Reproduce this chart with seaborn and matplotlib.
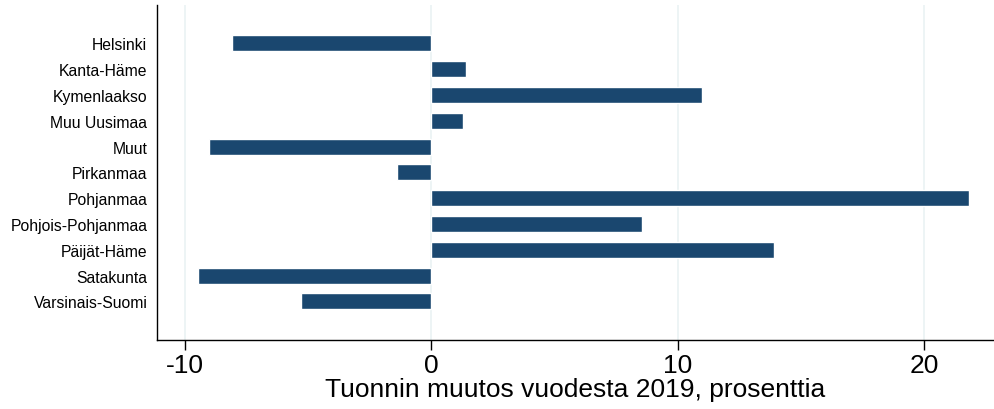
import pandas as pd
import matplotlib
matplotlib.use("Agg")
import matplotlib.pyplot as plt
import seaborn as sns

regions = ["Helsinki", "Kanta-Häme", "Kymenlaakso", "Muu Uusimaa", "Muut",
           "Pirkanmaa", "Pohjanmaa", "Pohjois-Pohjanmaa", "Päijät-Häme",
           "Satakunta", "Varsinais-Suomi"]
change = [-8.1, 1.4, 11.0, 1.3, -9.0, -1.4, 21.8, 8.55, 13.9, -9.45, -5.3]
xticks = [-10, 0, 10, 20]

df = pd.DataFrame({"region": regions, "change": change})

sns.set_style("white")
plt.rcParams["font.family"] = ["Liberation Sans", "DejaVu Sans"]

fig = plt.figure(figsize=(9.94, 4.10), dpi=100)
ax = fig.add_axes([0.158, 0.168, 0.841, 0.818])

sns.barplot(data=df, x="change", y="region", order=regions, color="#1a476f",
            width=0.62, saturation=1, ax=ax, zorder=3)

ax.set_xlim(-11.12, 22.79)
ax.set_ylim(11.5, -1.5)
ax.set_xticks(xticks)
ax.set_xticklabels([str(t) for t in xticks], fontsize=19)
ax.tick_params(axis="x", length=7, width=1, pad=2, bottom=True, color="black",
               labelcolor="black")
ax.tick_params(axis="y", length=0, pad=7, labelsize=11.3, labelcolor="black")
for t in xticks:
    ax.axvline(t, color="#eaf2f3", linewidth=1.2, zorder=0)

ax.set_xlabel("Tuonnin muutos vuodesta 2019, prosenttia", fontsize=19,
              labelpad=0, color="black")
ax.set_ylabel("")
for s in ["top", "right"]:
    ax.spines[s].set_visible(False)
for s in ["left", "bottom"]:
    ax.spines[s].set_color("black")
    ax.spines[s].set_linewidth(1)

fig.savefig("out.png", dpi=100)
